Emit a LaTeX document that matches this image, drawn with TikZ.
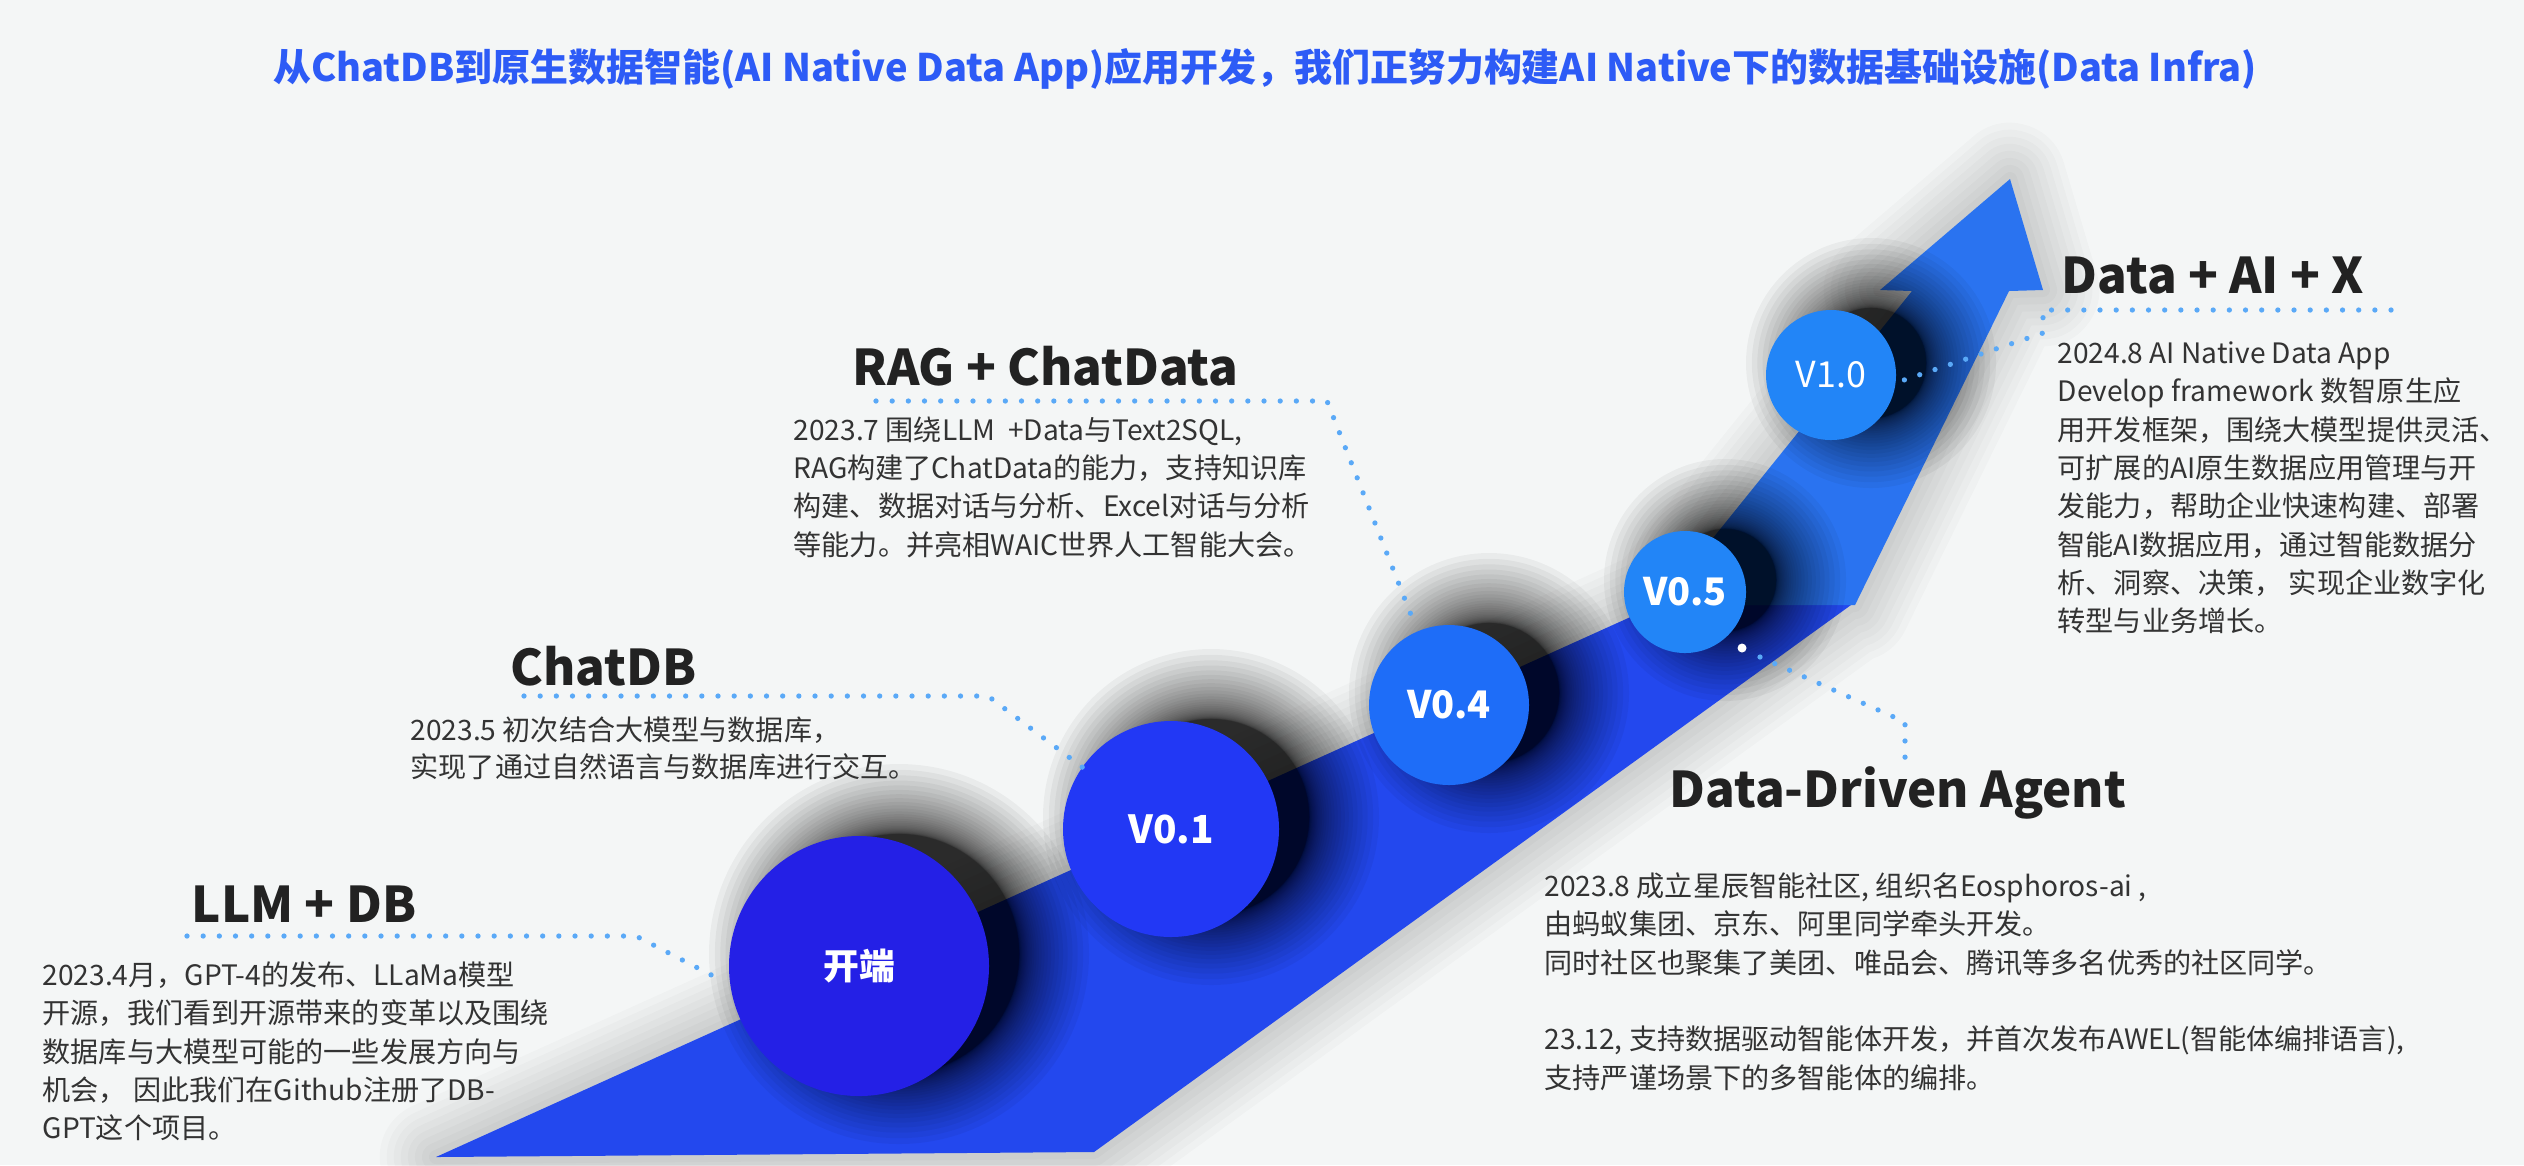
\documentclass[tikz,border=0pt]{standalone}
\usepackage{fontspec}
\setmainfont{Noto Sans CJK SC}
\usepackage{xcolor}
\usetikzlibrary{positioning}

\definecolor{bgcol}{HTML}{F4F6F6}
\definecolor{titlecol}{HTML}{2D5BF6}
\definecolor{headcol}{HTML}{222222}
\definecolor{textcol}{HTML}{333333}
\definecolor{dotcol}{HTML}{5AA9F7}
\definecolor{bandlow}{HTML}{2348EE}
\definecolor{bandup}{HTML}{2A73F0}
\definecolor{c0}{HTML}{2420E6}
\definecolor{c1}{HTML}{2238F5}
\definecolor{c4}{HTML}{1E6DF8}
\definecolor{c5}{HTML}{2285F7}

\begin{document}
\begin{tikzpicture}[
    halo/.style={draw=black, opacity=0.018, line join=round},
    version/.style={circle, inner sep=0pt, text=white, font=\bfseries\fontsize{11pt}{11pt}\selectfont},
    heading/.style={anchor=base west, inner sep=0pt, text=headcol, font=\bfseries\fontsize{14pt}{14pt}\selectfont},
    desc/.style={anchor=north west, inner sep=0pt, align=left, text=textcol, font=\fontsize{8pt}{10.9pt}\selectfont},
    dots/.style={draw=dotcol, line width=1.5pt, line cap=round, dash pattern=on 0pt off 4.6pt}
]
    \path[use as bounding box, fill=bgcol] (0,0) rectangle (25.24,-11.65);

    % Title
    \node[text=titlecol, font=\bfseries\fontsize{10.8pt}{10.8pt}\selectfont] (title) at (12.65,-0.69)
        {从ChatDB到原生数据智能(AI Native Data App)应用开发，我们正努力构建AI Native下的数据基础设施(Data Infra)};

    % Ribbon
    \foreach \w in {4,8,...,32} {
        \draw[halo, line width=\w pt] (4.36,-11.57) -- (10.94,-11.52) -- (18.51,-6.05) -- (18.55,-6.05) -- (20.09,-2.91)
            -- (20.43,-2.90) -- (20.10,-1.79) -- (18.80,-2.90) -- (19.12,-2.91) -- (16.59,-6.05) -- cycle;
    }
    \fill[bandlow] (4.36,-11.57) -- (10.94,-11.52) -- (18.51,-6.05) -- (16.57,-6.05) -- cycle;
    \fill[bandup] (16.59,-6.05) -- (18.55,-6.05) -- (20.09,-2.91) -- (20.43,-2.90)
        -- (20.10,-1.79) -- (18.80,-2.90) -- (19.12,-2.91) -- cycle;

    % Shadows
    \coordinate (p-start) at (8.59,-9.66);
    \coordinate (p-v01) at (11.71,-8.29);
    \coordinate (p-v04) at (14.49,-7.05);
    \coordinate (p-v05) at (16.85,-5.92);
    \coordinate (p-v10) at (18.31,-3.75);
    \foreach \p/\r in {p-start/1.3, p-v01/1.08, p-v04/0.8, p-v05/0.61, p-v10/0.65} {
        \foreach \k in {0,...,34} {
            \fill[black, opacity=0.045] ([shift={(0.4,0.12)}]\p) circle ({\r-0.1+0.7*(1-\k/35)^3});
        }
    }

    % Nodes
    \node[version, fill=c0, minimum size=2.6cm, font=\bfseries\fontsize{10.2pt}{10.2pt}\selectfont] (start) at (p-start) {开端};
    \node[version, fill=c1, minimum size=2.16cm] (v01) at (p-v01) {V0.1};
    \node[version, fill=c4, minimum size=1.6cm, font=\bfseries\fontsize{10.8pt}{10.8pt}\selectfont] (v04) at (p-v04) {V0.4};
    \node[version, fill=c5, minimum size=1.22cm, font=\bfseries\fontsize{10.8pt}{10.8pt}\selectfont] (v05) at (p-v05) {V0.5};
    \node[version, fill=c5, minimum size=1.3cm, font=\fontsize{10.2pt}{10.2pt}\selectfont] (v10) at (p-v10) {V1.0};

    \node[heading] (llm) at (1.91,-9.22) {LLM + DB};
    \node[heading] (chatdb) at (5.10,-6.85) {ChatDB};
    \node[heading] (rag) at (8.52,-3.85) {RAG + ChatData};
    \node[heading] (agent) at (16.69,-8.07) {Data-Driven Agent};
    \node[heading] (datax) at (20.61,-2.93) {Data + AI + X};

    \node[desc] (llmtext) at (0.42,-9.61) {2023.4月，GPT-4的发布、LLaMa模型\\开源，我们看到开源带来的变革以及围绕\\数据库与大模型可能的一些发展方向与\\机会， 因此我们在Github注册了DB-\\GPT这个项目。};
    \node[desc, font=\fontsize{8pt}{10.5pt}\selectfont] (chatdbtext) at (4.10,-7.16) {2023.5 初次结合大模型与数据库，\\实现了通过自然语言与数据库进行交互。};
    \node[desc] (ragtext) at (7.93,-4.16) {2023.7 围绕LLM\ \ +Data与Text2SQL,\\RAG构建了ChatData的能力，支持知识库\\构建、数据对话与分析、Excel对话与分析\\等能力。并亮相WAIC世界人工智能大会。};
    \node[desc] (agenttext) at (15.44,-8.72) {2023.8 成立星辰智能社区, 组织名Eosphoros-ai ,\\由蚂蚁集团、京东、阿里同学牵头开发。\\同时社区也聚集了美团、唯品会、腾讯等多名优秀的社区同学。\\[10.9pt]23.12, 支持数据驱动智能体开发，并首次发布AWEL(智能体编排语言),\\支持严谨场景下的多智能体的编排。};
    \node[desc] (dataxtext) at (20.57,-3.41) {2024.8 AI Native Data App\\Develop framework 数智原生应\\用开发框架，围绕大模型提供灵活、\\可扩展的AI原生数据应用管理与开\\发能力，帮助企业快速构建、部署\\智能AI数据应用，通过智能数据分\\析、洞察、决策， 实现企业数字化\\转型与业务增长。};

    % Dotted links
    \coordinate (llm-a) at (1.87,-9.36);
    \coordinate (llm-b) at (6.36,-9.36);
    \coordinate (llm-c) at (7.21,-9.80);
    \coordinate (chatdb-a) at (5.24,-6.96);
    \coordinate (chatdb-b) at (9.88,-6.96);
    \coordinate (chatdb-c) at (10.90,-7.73);
    \coordinate (rag-a) at (8.76,-4.01);
    \coordinate (rag-b) at (13.27,-4.01);
    \coordinate (rag-c) at (14.15,-6.25);
    \coordinate (agent-o) at (17.42,-6.48);
    \coordinate (agent-a) at (17.60,-6.57);
    \coordinate (agent-b) at (19.05,-7.22);
    \coordinate (agent-c) at (19.05,-7.70);
    \coordinate (datax-a) at (23.91,-3.10);
    \coordinate (datax-b) at (20.43,-3.10);
    \coordinate (datax-c) at (20.43,-3.33);
    \coordinate (datax-d) at (19.04,-3.80);

    \draw[dots] (llm-a) -- (llm-b) -- (llm-c);
    \draw[dots] (chatdb-a) -- (chatdb-b) -- (chatdb-c);
    \draw[dots] (rag-a) -- (rag-b) -- (rag-c);
    \fill[white] (agent-o) circle (0.045);
    \draw[dots] (agent-a) -- (agent-b) -- (agent-c);
    \draw[dots] (datax-a) -- (datax-b) -- (datax-c) -- (datax-d);
\end{tikzpicture}
\end{document}
